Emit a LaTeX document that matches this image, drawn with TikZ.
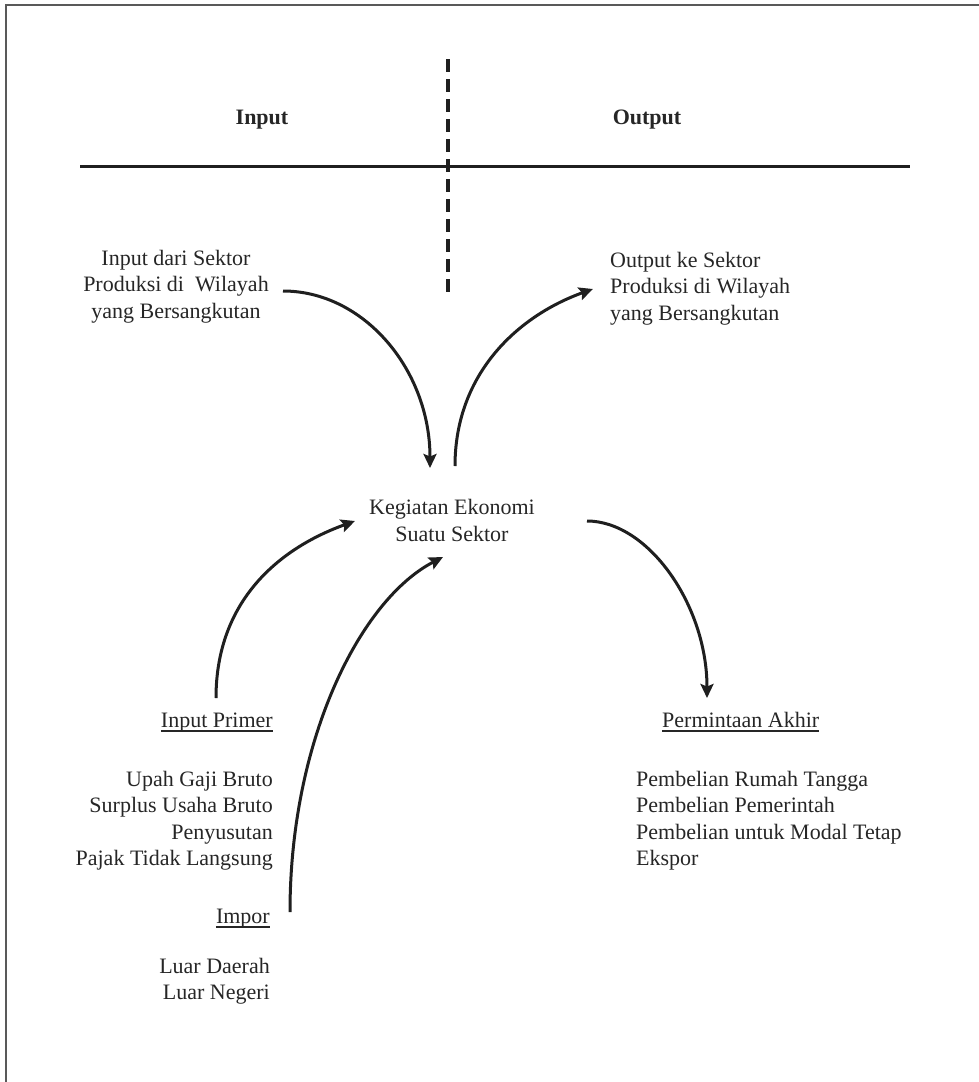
\documentclass[tikz,border=0pt]{standalone}
\usepackage{fontspec}
\setmainfont{Liberation Serif}
\usetikzlibrary{arrows.meta}
\begin{document}
\begin{tikzpicture}[x=1pt,y=-1pt,
  txt/.style={inner sep=0pt,font=\fontsize{22}{26.5}\selectfont,text=black!85},
  hdr/.style={inner sep=0pt,font=\fontsize{22}{26.5}\selectfont\bfseries,text=black!85},
  arr/.style={line width=3pt,draw=black!88,-{Stealth[length=14pt,width=13pt,inset=2.5pt]}},
  uline/.style={line width=1.6pt,draw=black!85},
  frame/.style={line width=2pt,draw=black!65}]
\useasboundingbox (0,0) rectangle (979,1082);
% frame (top and left)
\draw[frame] (979,5) -- (6,5) -- (6,1082);
% header
\node[hdr,anchor=base] (hin) at (262,124) {Input};
\node[hdr,anchor=base] (hout) at (647,124) {Output};
\coordinate (hl) at (80,166);
\coordinate (hr) at (910,166);
\draw[line width=3pt,draw=black!88] (hl) -- (hr);
\coordinate (dtop) at (448,59);
\coordinate (dbot) at (448,299);
\draw[line width=3.5pt,draw=black!88,dash pattern=on 13pt off 7pt] (dtop) -- (dbot);
% texts (base anchor = baseline of the last line)
\node[txt,anchor=base,align=center] (inps) at (176,318) {Input dari Sektor\\Produksi di\ \ Wilayah\\yang Bersangkutan};
\node[txt,anchor=base west,align=left] (outs) at (610,320) {Output ke Sektor\\Produksi di Wilayah\\yang Bersangkutan};
\node[txt,anchor=base,align=center] (keg) at (452,541) {Kegiatan Ekonomi\\Suatu Sektor};
\node[txt,anchor=base east] (ipri) at (273,727) {Input Primer};
\node[txt,anchor=base east,align=right] (iplist) at (273,865.5) {Upah Gaji Bruto\\Surplus Usaha Bruto\\Penyusutan\\Pajak Tidak Langsung};
\node[txt,anchor=base east] (impor) at (270,923) {Impor};
\node[txt,anchor=base east,align=right] (implist) at (270,999.5) {Luar Daerah\\Luar Negeri};
\node[txt,anchor=base west] (perm) at (662,727) {Permintaan Akhir};
\node[txt,anchor=base west,align=left] (permlist) at (636,865.5) {Pembelian Rumah Tangga\\Pembelian Pemerintah\\Pembelian untuk Modal Tetap\\Ekspor};
% underlines
\draw[uline] ([yshift=-4pt]ipri.base west) -- ([yshift=-4pt]ipri.base east);
\draw[uline] ([yshift=-4pt]impor.base west) -- ([yshift=-4pt]impor.base east);
\draw[uline] ([yshift=-4pt]perm.base west) -- ([yshift=-4pt]perm.base east);
% connector ends
\coordinate (a1s) at (283,291);
\coordinate (a1e) at (430,468);
\coordinate (a2s) at (455,466);
\coordinate (a2e) at (593,289);
\coordinate (a3s) at (216,698);
\coordinate (a3e) at (355,521);
\coordinate (a4s) at (290,912);
\coordinate (a4e) at (443,557);
\coordinate (a5s) at (587,521);
\coordinate (a5e) at (707,698);
% connectors
\draw[arr] (a1s) .. controls (364,291) and (430,370) .. (a1e);
\draw[arr] (a2s) .. controls (455,372) and (520,315) .. (a2e);
\draw[arr] (a3s) .. controls (216,600) and (280,548) .. (a3e);
\draw[arr] (a4s) .. controls (290,740) and (360,600) .. (a4e);
\draw[arr] (a5s) .. controls (648,521) and (707,605) .. (a5e);
\end{tikzpicture}
\end{document}
